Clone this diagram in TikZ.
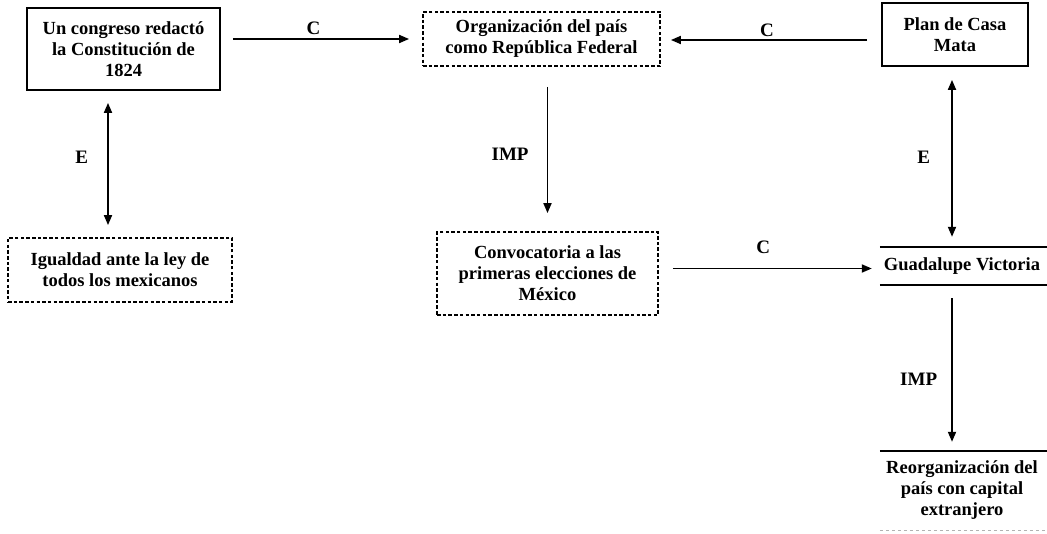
\documentclass[tikz,border=0pt]{standalone}
\usepackage{fontspec}
\setmainfont{Liberation Serif}
\usetikzlibrary{arrows.meta}
\begin{document}
\begin{tikzpicture}[x=1pt,y=-1pt,
  every node/.style={font=\bfseries\fontsize{18.5}{21}\selectfont, align=center, inner sep=0pt},
  solidbox/.style={draw, line width=1.8pt, rectangle},
  dotbox/.style={draw, line width=1.8pt, rectangle, dash pattern=on 3.5pt off 2.2pt},
  openbox/.style={rectangle},
  lbl/.style={font=\bfseries\fontsize{19}{21}\selectfont},
  arr/.style={line width=1.8pt, -{Triangle[length=10pt,width=8pt]}},
  darr/.style={line width=1.8pt, {Triangle[length=10pt,width=8pt]}-{Triangle[length=10pt,width=8pt]}}
]
\useasboundingbox (0,0) rectangle (1047,534);

% concept boxes
\node[solidbox, minimum width=193pt, minimum height=82pt] (A) at (123.5,49)
  {Un congreso redactó\\la Constitución de\\1824};
\node[dotbox, minimum width=237pt, minimum height=54pt] (B) at (541.5,39)
  {Organización del país\\como República Federal};
\node[solidbox, minimum width=146pt, minimum height=63pt] (C) at (955,34.5)
  {Plan de Casa\\Mata};
\node[dotbox, minimum width=224pt, minimum height=64pt] (D) at (120,270)
  {Igualdad ante la ley de\\todos los mexicanos};
\node[dotbox, minimum width=221pt, minimum height=83pt] (E) at (547.5,273.5)
  {Convocatoria a las\\primeras elecciones de\\México};
\node[openbox, minimum width=160pt, minimum height=38pt] (F) at (962,266)
  {Guadalupe Victoria};
\node[openbox, minimum width=160pt, minimum height=79pt] (G) at (962,490.5)
  {Reorganización del\\país con capital\\extranjero};

% boxes running off the right edge: only top and bottom rules show
\draw[line width=1.8pt] ([xshift=-2pt]F.north west) -- ([xshift=20pt]F.north east);
\draw[line width=1.8pt] ([xshift=-2pt]F.south west) -- ([xshift=20pt]F.south east);
\draw[line width=1.8pt] ([xshift=-2pt]G.north west) -- ([xshift=20pt]G.north east);
\draw[line width=1pt, gray!60, dash pattern=on 3pt off 3pt] ([xshift=-2pt]G.south west) -- ([xshift=20pt]G.south east);

% relations
\draw[arr, shorten <=12pt, shorten >=13pt] (A.east |- B.west) -- node[lbl, midway, above=3pt, xshift=-8pt] {C} (B.west);
\draw[arr, shorten <=14pt, shorten >=10pt] ([yshift=-1pt]B.east -| C.west) -- node[lbl, midway, above=2pt, xshift=-4pt] {C} ([yshift=-1pt]B.east);
\draw[arr, shorten <=20pt, shorten >=18pt] (B.south -| E.north) -- node[lbl, midway, left=18pt, yshift=-5pt] {IMP} (E.north);
\draw[darr, shorten <=12pt, shorten >=12pt] ([xshift=-15.5pt]A.south) -- node[lbl, midway, left=19pt, yshift=7pt] {E} ([xshift=-15.5pt]A.south |- D.north);
\draw[darr, shorten <=13pt, shorten >=10pt] ([xshift=-3pt]C.south) -- node[lbl, midway, left=21pt] {E} ([xshift=-3pt]C.south |- F.north);
\draw[arr, shorten <=14pt, shorten >=10pt] ([yshift=5pt]E.east) -- node[lbl, midway, above=14pt, xshift=-7pt] {C} ([yshift=5pt]E.east -| F.west);
\draw[arr, shorten <=13pt, shorten >=9pt] ([xshift=-10pt]F.south) -- node[lbl, midway, left=14pt, yshift=-11pt] {IMP} ([xshift=-10pt]G.north);
\end{tikzpicture}
\end{document}
